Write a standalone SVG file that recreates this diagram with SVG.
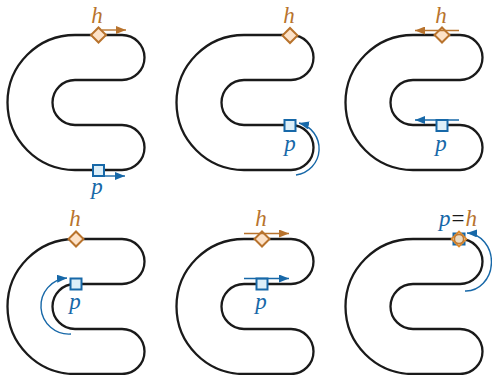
<svg xmlns="http://www.w3.org/2000/svg" xmlns:xlink="http://www.w3.org/1999/xlink" width="492" height="375" viewBox="0 0 492 375">
<style>
.track{fill:none;stroke:#1a1a1a;stroke-width:2.3}
.hm{fill:#fde2c8;stroke:#b8732d;stroke-width:2}
.pm{fill:#ddeff9;stroke:#1768a8;stroke-width:2}
.ha{fill:none;stroke:#b8732d;stroke-width:1.4}
.pa{fill:none;stroke:#1768a8;stroke-width:1.4}
.lbl{font-family:"Liberation Serif","DejaVu Serif",serif;font-style:italic;font-size:23px;text-anchor:middle}
.hl{fill:#b8732d}
.pl{fill:#1768a8}
</style>
<defs>
<path id="track" class="track" d="M75 35H122A22.5 22.5 0 0 1 122 80H75A22.5 22.5 0 0 0 75 125H122A22.5 22.5 0 0 1 122 170H75A67.5 67.5 0 0 1 75 35Z"/>
<marker id="aho" markerUnits="userSpaceOnUse" markerWidth="10" markerHeight="8" refX="10" refY="4" orient="auto"><path d="M0 0L10 4L0 8Z" fill="#b8732d"/></marker>
<marker id="ahb" markerUnits="userSpaceOnUse" markerWidth="10" markerHeight="8" refX="10" refY="4" orient="auto"><path d="M0 0L10 4L0 8Z" fill="#1768a8"/></marker>
<rect id="sq" x="-5.5" y="-5.5" width="11" height="11"/>
<rect id="dm" x="-5.3" y="-5.3" width="10.6" height="10.6" transform="rotate(45)"/>
</defs>

<g id="panel1">
<use xlink:href="#track"/>
<use xlink:href="#dm" class="hm" transform="translate(98.5 35)"/>
<use xlink:href="#sq" class="pm" transform="translate(98.5 170.5)"/>
<text class="lbl hl" x="97" y="23">h</text>
<text class="lbl pl" x="97" y="194">p</text>
</g>

<g id="panel2">
<use xlink:href="#track" x="169"/>
<use xlink:href="#dm" class="hm" transform="translate(290 35.5)"/>
<use xlink:href="#sq" class="pm" transform="translate(290 125.5)"/>
<text class="lbl hl" x="289" y="23">h</text>
<text class="lbl pl" x="290" y="151">p</text>
</g>

<g id="panel3">
<use xlink:href="#track" x="338"/>
<use xlink:href="#dm" class="hm" transform="translate(442 35)"/>
<use xlink:href="#sq" class="pm" transform="translate(442 125.5)"/>
<text class="lbl hl" x="441" y="23">h</text>
<text class="lbl pl" x="441" y="151">p</text>
</g>

<g id="panel4">
<use xlink:href="#track" y="204"/>
<use xlink:href="#dm" class="hm" transform="translate(76 239)"/>
<use xlink:href="#sq" class="pm" transform="translate(76 284)"/>
<text class="lbl hl" x="75" y="226">h</text>
<text class="lbl pl" x="75" y="309">p</text>
</g>

<g id="panel5">
<use xlink:href="#track" x="169" y="204"/>
<use xlink:href="#dm" class="hm" transform="translate(262 239)"/>
<use xlink:href="#sq" class="pm" transform="translate(262 284)"/>
<text class="lbl hl" x="261" y="226">h</text>
<text class="lbl pl" x="261" y="309">p</text>
</g>

<g id="panel6">
<use xlink:href="#track" x="338" y="204"/>
<g transform="translate(459 239)">
<use xlink:href="#sq" fill="#e6dbc8" stroke="#1768a8" stroke-width="2"/>
<use xlink:href="#dm" fill="#e6dbc8" stroke="#e08a2a" stroke-width="1.6"/>
<circle r="4.6" fill="#e9dcc6" stroke="#c07a34" stroke-width="1.6"/>
</g>
<text class="lbl" x="458" y="226"><tspan class="pl">p</tspan><tspan fill="#1a1a1a" font-style="normal" dx="1">=</tspan><tspan class="hl" dx="1">h</tspan></text>
</g>

<g id="connectors">
<path class="ha" d="M102 30H126" marker-end="url(#aho)"/>
<path class="pa" d="M102 176H125" marker-end="url(#ahb)"/>
<path class="pa" d="M296 175A26.5 26.5 0 0 0 299 123" marker-end="url(#ahb)"/>
<path class="ha" d="M459 30.5H415" marker-end="url(#aho)"/>
<path class="pa" d="M459 120H415" marker-end="url(#ahb)"/>
<path class="pa" d="M71 334A28 28 0 0 1 67 278" marker-end="url(#ahb)"/>
<path class="ha" d="M244 233.5H289" marker-end="url(#aho)"/>
<path class="pa" d="M244 278.5H289" marker-end="url(#ahb)"/>
<path class="pa" d="M465 291A25 28.5 0 0 0 467 233" marker-end="url(#ahb)"/>
</g>
</svg>
